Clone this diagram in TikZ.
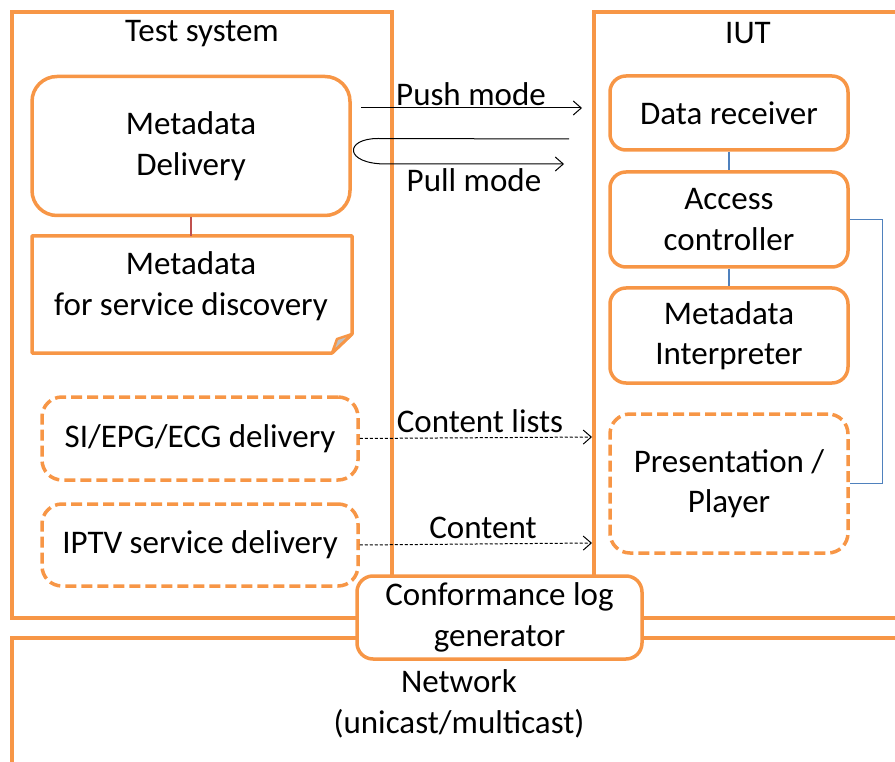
\documentclass[tikz,border=0pt]{standalone}
\usepackage{fontspec}
\setmainfont{Carlito}
\usepackage{tikz}
\usetikzlibrary{arrows.meta}

\definecolor{boxorange}{HTML}{F79646}
\definecolor{linkblue}{HTML}{4F81BD}
\definecolor{linkred}{HTML}{C0504D}

\tikzset{
  frame/.style={draw=boxorange, line width=3.5pt, fill=none, inner sep=0pt},
  box/.style={draw=boxorange, line width=3.5pt, rounded corners=16pt, fill=white,
    align=center, inner sep=0pt},
  dbox/.style={box, dash pattern=on 11pt off 5pt, rounded corners=20pt},
  txt/.style={align=center, inner sep=0pt},
  flow/.style={line width=1pt, -{Straight Barb[length=8pt,width=14pt]}},
  dflow/.style={flow, dash pattern=on 3pt off 2pt},
}

\begin{document}
\begin{tikzpicture}[x=1pt, y=-1pt, font=\fontsize{33}{40.5}\selectfont]
    \useasboundingbox (0,0) rectangle (895,762);
    \clip (0,0) rectangle (895,762);

    % the three frames
    \node[frame, minimum width=380pt, minimum height=606pt] (tsys) at (202,315) {};
    \node[frame, minimum width=320pt, minimum height=606pt] (iut) at (754,315) {};
    \node[frame, minimum width=900pt, minimum height=160pt] (net) at (462,718) {};
    \node[txt] (tsyslbl) at (202,34) {Test system};
    \node[txt] (iutlbl) at (748,33) {IUT};
    \node[txt] (netlbl) at (459,704) {Network\\(unicast/multicast)};

    % test system side
    \node[box, rounded corners=25pt, minimum width=318pt, minimum height=139pt] (mdd) at (191,146) {Metadata\\Delivery};
    \node[txt] (mdsd) at (191,286) {Metadata\\for service discovery};
    \draw[boxorange, line width=3.5pt, line join=round]
        (32,236) -- (352,236) -- (352,334) -- (332,353) -- (32,353) -- cycle;
    \draw[boxorange, line width=2.5pt, line join=round, fill=black!25]
        (332,353) -- (337,339) -- (352,334) -- cycle;
    \coordinate (mdsdtop) at (191,236);
    \draw[linkred, line width=2pt] (mdd.south) -- (mdsdtop);

    \node[dbox, minimum width=316pt, minimum height=83pt] (siepg) at (200,438.5) {SI/EPG/ECG delivery};
    \node[dbox, minimum width=316pt, minimum height=82pt] (iptv) at (200,545) {IPTV service delivery};

    % IUT side
    \node[box, minimum width=238pt, minimum height=74pt] (recv) at (729,113) {Data receiver};
    \node[box, minimum width=238pt, minimum height=95pt] (acc) at (729,219.5) {Access\\controller};
    \node[box, minimum width=238pt, minimum height=95pt] (interp) at (729,335.5) {Metadata\\Interpreter};
    \node[dbox, minimum width=238pt, minimum height=139pt] (player) at (729,483.5) {Presentation /\\Player};

    \draw[linkblue, line width=1.2pt] (recv.south) -- (acc.north);
    \draw[linkblue, line width=1.2pt] (acc.south) -- (interp.north);
    \draw[linkblue, line width=1.2pt] (acc.east) -- ++(33,0) |- (player.east);

    % exchanges between the two
    \coordinate (pushs) at (361,108);
    \coordinate (pushe) at (582,108);
    \draw[flow] (pushs) -- (pushe);
    \node[txt] (pushlbl) at (471,94) {Push mode};

    \coordinate (pulls) at (569,139);
    \coordinate (pulle) at (564,164);
    \draw[flow] (pulls) -- (378,138.5) .. controls (344,138.5) and (344,164) .. (386,164) -- (pulle);
    \node[txt] (pulllbl) at (474,180) {Pull mode};

    \coordinate (listse) at (592,437);
    \coordinate (conte) at (592,543);
    \draw[dflow] (siepg.east) -- (listse);
    \node[txt] (listslbl) at (480,421) {Content lists};
    \draw[dflow] (iptv.east) -- (conte);
    \node[txt] (contlbl) at (483,528) {Content};

    % log generator on top of the frames
    \node[box, minimum width=285pt, minimum height=83pt] (clog) at (499.5,617.5) {Conformance log\\generator};
\end{tikzpicture}
\end{document}
